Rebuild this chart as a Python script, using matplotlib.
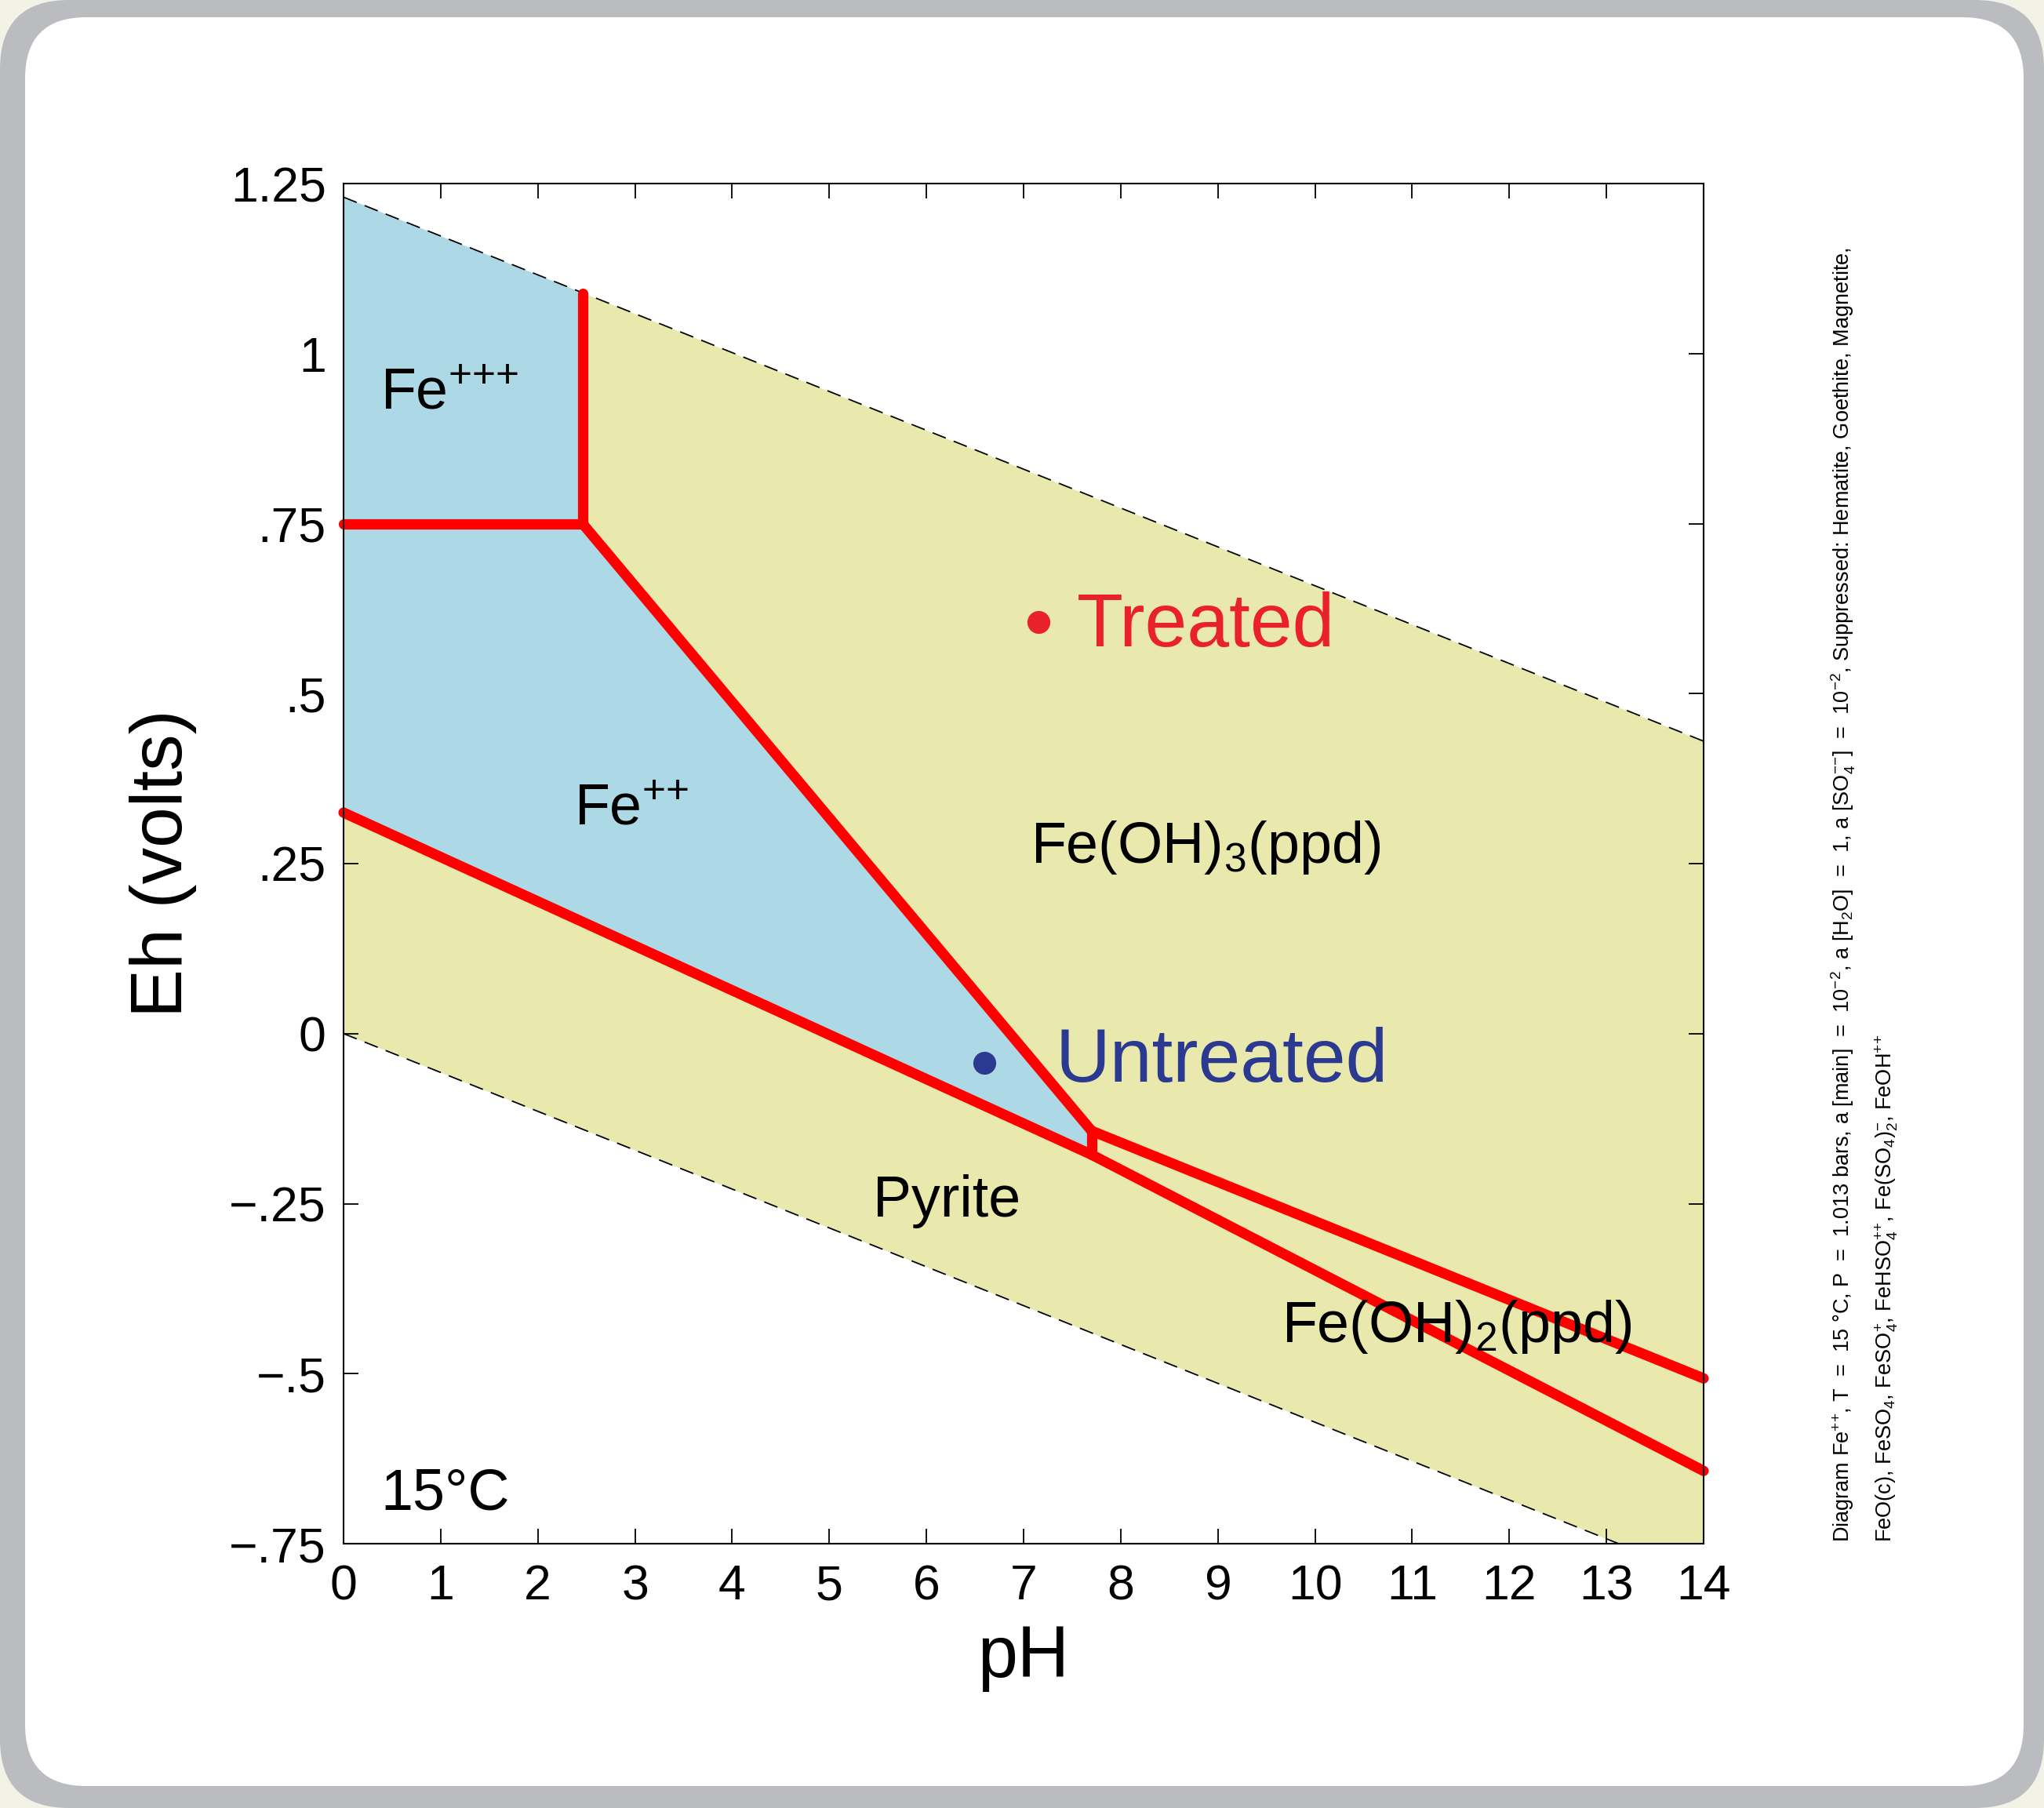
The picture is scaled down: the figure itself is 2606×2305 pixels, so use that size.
import numpy as np
import matplotlib.pyplot as plt
from matplotlib.patches import FancyBboxPatch, Polygon

plt.rcParams['font.family'] = ['Liberation Sans', 'DejaVu Sans']
plt.rcParams['mathtext.fontset'] = 'custom'
plt.rcParams['mathtext.rm'] = 'Liberation Sans'
plt.rcParams['mathtext.it'] = 'Liberation Sans:italic'
plt.rcParams['mathtext.bf'] = 'Liberation Sans:bold'

# water stability limits (dashed)
water_ph = [0, 14]
water_top = [1.23, 0.43]
water_bot = [0.0, -0.80]

# field boundaries (pH, Eh)
fe3_fe2_ph = [0, 2.46]
fe3_fe2_eh = [0.75, 0.75]
fe3_hyd_ph = [2.46, 2.46]
fe3_hyd_eh = [0.75, 1.089]
fe2_hyd_ph = [2.46, 7.70]
fe2_hyd_eh = [0.75, -0.143]
fe2_pyr_ph = [0, 7.70]
fe2_pyr_eh = [0.325, -0.178]
hyd_pyr_ph = [7.70, 7.70]
hyd_pyr_eh = [-0.143, -0.178]
hyd3_hyd2_ph = [7.70, 14]
hyd3_hyd2_eh = [-0.143, -0.507]
pyr_hyd2_ph = [7.70, 14]
pyr_hyd2_eh = [-0.178, -0.643]

# samples
treated = (7.15, 0.605)
untreated = (6.60, -0.043)

# field labels: text, pH, Eh
labels = [
    (r'Fe$^{{+}{+}{+}}$', 0.38, 0.918),
    (r'Fe$^{{+}{+}}$', 2.37, 0.307),
    (r'Fe(OH)$_3$(ppd)', 7.07, 0.251),
    ('Pyrite', 5.45, -0.269),
    (r'Fe(OH)$_2$(ppd)', 9.66, -0.454),
    ('15°C', 0.38, -0.70),
]

yticks = [1.25, 1, 0.75, 0.5, 0.25, 0, -0.25, -0.5, -0.75]
yticklabels = ['1.25', '1', '.75', '.5', '.25', '0', '\u2212.25', '\u2212.5', '\u2212.75']
xticks = list(range(0, 15))

W, H = 2606, 2305
fig = plt.figure(figsize=(W / 100, H / 100), dpi=100)
fig.patch.set_facecolor('#f3f2e7')

# frame
bg = fig.add_axes([0, 0, 1, 1])
bg.set_xlim(0, W)
bg.set_ylim(0, H)
bg.axis('off')
bg.add_patch(FancyBboxPatch((0, 0), W, H, boxstyle='round,pad=0,rounding_size=88',
                            fc='#bbbcc0', ec='none'))
bg.add_patch(FancyBboxPatch((32, 28), W - 32 - 26, H - 28 - 22,
                            boxstyle='round,pad=0,rounding_size=78',
                            fc='white', ec='none'))

ax = fig.add_axes([438 / W, 1 - 1968 / H, 1734 / W, 1734 / H])
ax.set_xlim(0, 14)
ax.set_ylim(-0.75, 1.25)

ax.fill_between(water_ph, water_bot, water_top, color='#e9e9ad', lw=0, zorder=1)
blue_poly = [(water_ph[0], water_top[0]), (fe3_hyd_ph[1], fe3_hyd_eh[1]),
             (fe2_hyd_ph[0], fe2_hyd_eh[0]), (fe2_hyd_ph[1], fe2_hyd_eh[1]),
             (fe2_pyr_ph[1], fe2_pyr_eh[1]), (fe2_pyr_ph[0], fe2_pyr_eh[0])]
ax.add_patch(Polygon(blue_poly, closed=True, fc='#add8e6', ec='none', zorder=2))

ax.plot(water_ph, water_top, color='black', lw=1.3, dashes=(10, 6), zorder=3)
ax.plot(water_ph, water_bot, color='black', lw=1.3, dashes=(10, 6), zorder=3)

for px, py in [(fe3_fe2_ph, fe3_fe2_eh), (fe3_hyd_ph, fe3_hyd_eh), (fe2_hyd_ph, fe2_hyd_eh),
               (fe2_pyr_ph, fe2_pyr_eh), (hyd_pyr_ph, hyd_pyr_eh),
               (hyd3_hyd2_ph, hyd3_hyd2_eh), (pyr_hyd2_ph, pyr_hyd2_eh)]:
    ax.plot(px, py, color='#ff0000', lw=9.5, solid_capstyle='round',
            solid_joinstyle='round', zorder=4, clip_on=False)

for txt, x, y in labels:
    ax.text(x, y, txt, fontsize=53, ha='left', va='baseline', color='black', zorder=5)

ax.plot(*treated, 'o', ms=21, color='#e8212b', mec='none', zorder=6)
ax.text(7.55, 0.569, 'Treated', fontsize=69.5, color='#e8212b', ha='left', va='baseline', zorder=6)
ax.plot(*untreated, 'o', ms=21, color='#2b3990', mec='none', zorder=6)
ax.text(7.33, -0.071, 'Untreated', fontsize=69.5, color='#2b3990', ha='left', va='baseline', zorder=6)

ax.set_xticks(xticks)
ax.set_xticklabels([str(t) for t in xticks])
ax.set_yticks(yticks)
ax.set_yticklabels(yticklabels)
ax.tick_params(direction='in', length=14, width=1.3, top=True, right=True,
               labelsize=45, colors='black')
ax.tick_params(axis='y', pad=16)
ax.tick_params(axis='x', pad=18)
for s in ax.spines.values():
    s.set_linewidth(1.5)
    s.set_zorder(7)

ax.set_xlabel('pH', fontsize=66)
ax.xaxis.set_label_coords(0.5, -0.084)
ax.xaxis.label.set_va('center')
ax.set_ylabel('Eh (volts)', fontsize=67)
ax.yaxis.set_label_coords(-0.1326, 0.5)
ax.yaxis.label.set_va('center')

line1 = (r'Diagram Fe$^{{+}{+}}$, T  =  15 °C, P  =  1.013 bars, a [main]  =  10$^{-2}$, '
         r'a [H$_2$O]  =  1, a [SO$_4^{{-}{-}}$]  =  10$^{-2}$, Suppressed: Hematite, Goethite, Magnetite,')
line2 = (r'FeO(c), FeSO$_4$, FeSO$_4^{+}$, FeHSO$_4^{{+}{+}}$, Fe(SO$_4$)$_2^{-}$, FeOH$^{{+}{+}}$')
fig.text(2350 / W, 1 - 1966 / H, line1, rotation=90, fontsize=19.5,
         family=['Liberation Sans Narrow', 'Liberation Sans'], ha='center', va='bottom')
fig.text(2405 / W, 1 - 1966 / H, line2, rotation=90, fontsize=19.5,
         family=['Liberation Sans Narrow', 'Liberation Sans'], ha='center', va='bottom')

fig.savefig('out.png', dpi=100, facecolor=fig.get_facecolor())
